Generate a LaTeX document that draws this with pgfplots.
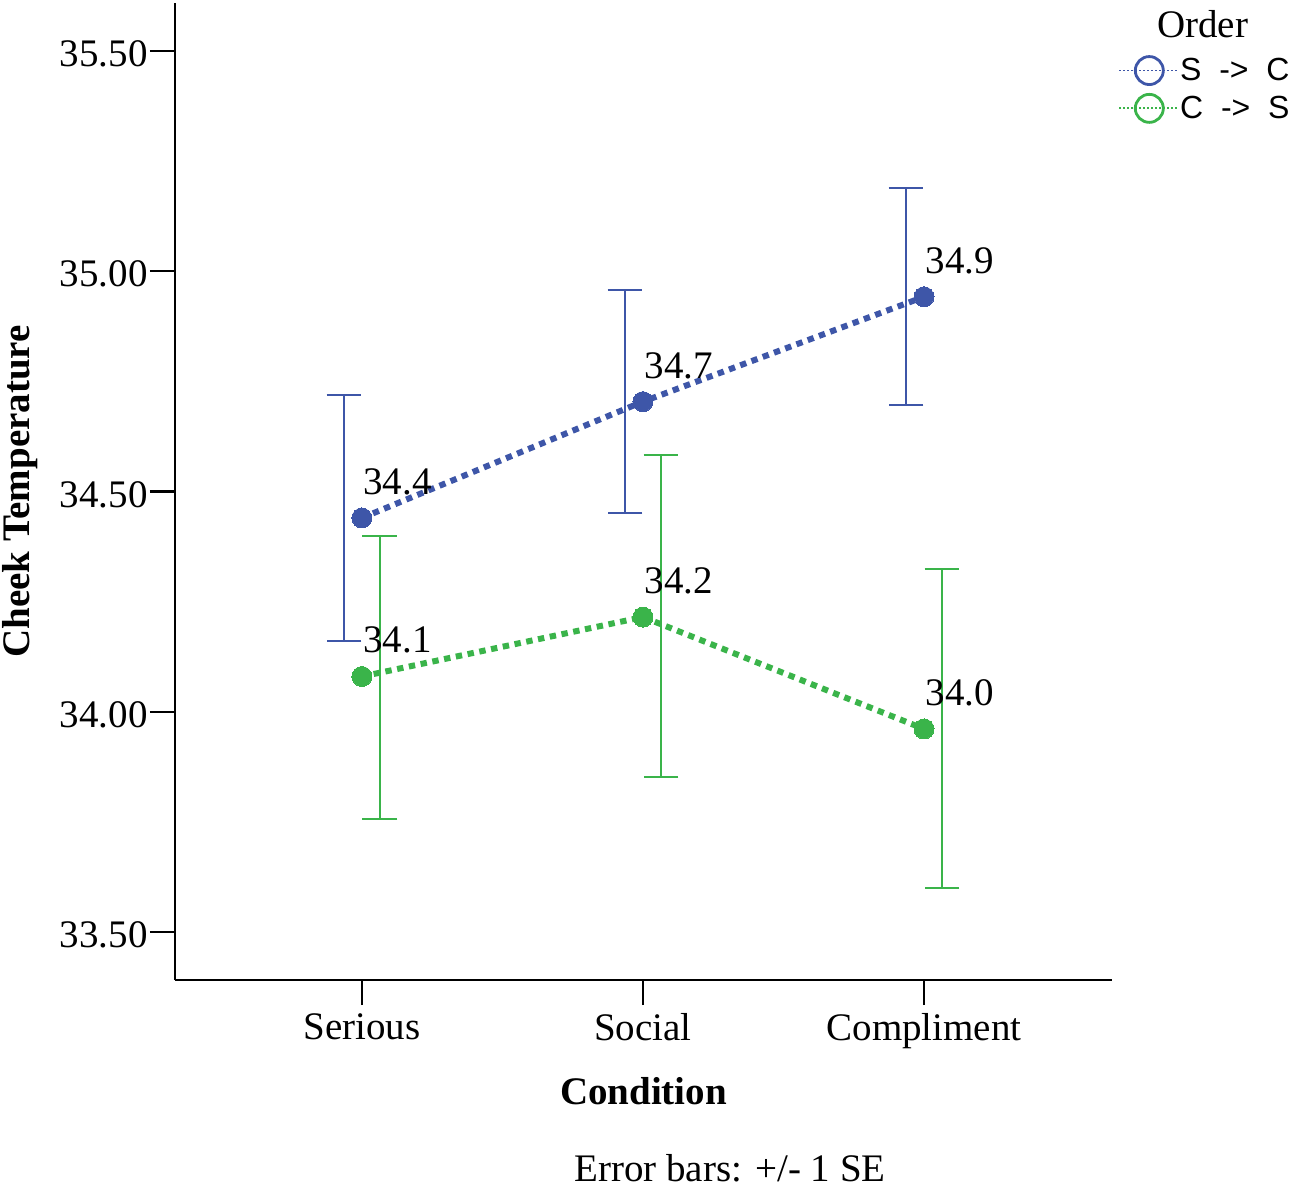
\documentclass[border=0pt]{standalone}
\usepackage{fontspec}
\setmainfont{Liberation Serif}
\newfontfamily\arialfont{Liberation Sans}
\usepackage{pgfplots}
\pgfplotsset{compat=1.18}
\definecolor{cblue}{RGB}{62,86,168}
\definecolor{cgreen}{RGB}{58,180,74}

\begin{document}
\begin{tikzpicture}[font=\fontsize{19.5}{23}\selectfont]
\path[use as bounding box] (-87.5pt,-103.5pt) rectangle (559pt,490pt);
\begin{axis}[
  at={(0pt,0pt)}, anchor=south west,
  scale only axis, width=468.5pt, height=488.5pt,
  xmin=-0.665, xmax=2.669, ymin=33.391, ymax=35.609,
  axis lines=left,
  axis line style={-, line width=0.8pt, black},
  tick align=outside,
  major tick length=12.5pt,
  tick style={line width=1.2pt, black},
  xtick={0,1,2},
  xticklabels={Serious,Social,Compliment},
  ytick={33.5,34,34.5,35,35.5},
  /pgf/number format/assume math mode=true,
  yticklabel style={/pgf/number format/fixed, /pgf/number format/fixed zerofill, /pgf/number format/precision=2, inner sep=1pt, yshift=-1.5pt},
  xticklabel style={inner sep=4pt},
  ylabel={\textbf{Cheek Temperature}},
  ylabel style={at={(axis description cs:-0.1654,0.5)}, anchor=center},
  xlabel={\textbf{Condition}},
  xlabel style={at={(axis description cs:0.5,-0.12692)}, anchor=base},
  legend style={at={(axis description cs:1.0064,0.947)}, anchor=north west, draw=none, fill=none, inner sep=0pt, row sep=3.5pt, font=\arialfont\fontsize{16}{19}\selectfont, nodes={inner sep=0pt}},
  legend cell align=left,
  /tikz/every even column/.append style={column sep=5.5pt},
  clip=false,
]
% error bars
\addplot[forget plot, draw=none, mark=none, error bars/.cd, y dir=both, y explicit,
  error bar style={draw=cblue, solid, line width=1pt},
  error mark options={rotate=90, mark size=8.7pt, line width=1pt, draw=cblue, solid}]
  table[x=x, y=y, y error plus=ep, y error minus=em] {
x y ep em
-0.064 34.440 0.278 0.279
0.936 34.704 0.254 0.252
1.936 34.942 0.247 0.246
};
\addplot[forget plot, draw=none, mark=none, error bars/.cd, y dir=both, y explicit,
  error bar style={draw=cgreen, solid, line width=1pt},
  error mark options={rotate=90, mark size=8.7pt, line width=1pt, draw=cgreen, solid}]
  table[x=x, y=y, y error plus=ep, y error minus=em] {
x y ep em
0.064 34.080 0.320 0.323
1.064 34.215 0.368 0.363
2.064 33.961 0.362 0.361
};
% lines
\addplot[cblue, line width=3pt, dash pattern=on 3.2pt off 2.8pt, mark=*, mark size=5pt,
  mark options={solid, line width=0pt, fill=cblue},
  nodes near coords={\pgfmathprintnumber[fixed,fixed zerofill,precision=1]{\pgfplotspointmeta}},
  nodes near coords style={text=black, anchor=base west, inner sep=0pt, yshift=11.8pt, xshift=0.8pt, font=\fontsize{19.5}{23}\selectfont},
  legend image code/.code={
    \draw[cblue, line width=0.9pt, dash pattern=on 1pt off 1pt] (0pt,0pt) -- (30pt,0pt);
    \draw[cblue, line width=1.4pt, solid] (15pt,0pt) circle (7pt);}]
  coordinates {(0,34.440) (1,34.704) (2,34.942)};
\addlegendentry{S\ \ -\hspace{0pt}>\ \ C}
\addplot[cgreen, line width=3pt, dash pattern=on 3.2pt off 2.8pt, mark=*, mark size=5pt,
  mark options={solid, line width=0pt, fill=cgreen},
  nodes near coords={\pgfmathprintnumber[fixed,fixed zerofill,precision=1]{\pgfplotspointmeta}},
  nodes near coords style={text=black, anchor=base west, inner sep=0pt, yshift=11.8pt, xshift=0.8pt, font=\fontsize{19.5}{23}\selectfont},
  legend image code/.code={
    \draw[cgreen, line width=0.9pt, dash pattern=on 1pt off 1pt] (0pt,0pt) -- (30pt,0pt);
    \draw[cgreen, line width=1.4pt, solid] (15pt,0pt) circle (7pt);}]
  coordinates {(0,34.080) (1,34.215) (2,33.961)};
\addlegendentry{C\ \ -\hspace{0pt}>\ \ S}
\end{axis}
\node[anchor=base] at (513.75pt,471pt) {Order};
\node[anchor=base] at (277.5pt,-100.75pt) {Error bars: +/- 1 SE};
\end{tikzpicture}
\end{document}
